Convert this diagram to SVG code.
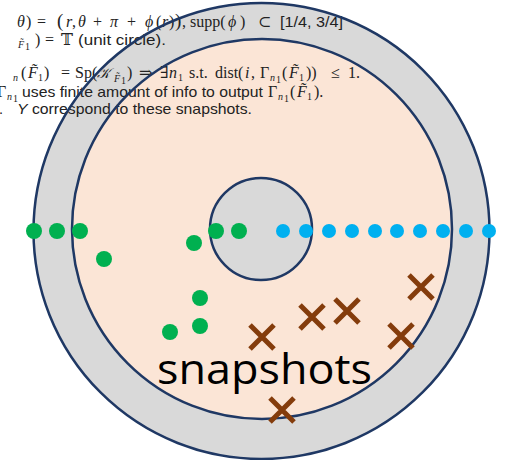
<svg xmlns="http://www.w3.org/2000/svg" width="506" height="460" viewBox="0 0 506 460">
<style>
.ring{stroke:#1F3864;stroke-width:2.5;fill:none}
.m{font-family:"Liberation Serif","DejaVu Serif",serif;font-size:16px;fill:#222}
.i{font-style:italic}
.s{font-family:"Liberation Sans","Open Sans",sans-serif;font-size:14.5px;fill:#222}
.sub{font-size:10px}
.g{fill:#00B050}
.b{fill:#00B0F0}
.x{stroke:#843C0C;stroke-width:5;stroke-linecap:butt;fill:none}
</style>
<defs>
<path id="cross" d="M-12,-12L12,12M12,-12L-12,12"/>
</defs>
<rect width="506" height="460" fill="#ffffff"/>
<g id="fills">
<circle cx="261.5" cy="231" r="228" fill="#D9D9D9"/>
<circle cx="262" cy="229" r="190" fill="#FBE5D6"/>
<circle cx="261" cy="229" r="51" fill="#D9D9D9"/>
</g>
<g id="text">
<text class="m" y="27"><tspan x="17" class="i">θ</tspan><tspan x="26">)</tspan><tspan x="37">=</tspan><tspan x="57" font-size="19">(</tspan><tspan x="66" class="i">r</tspan><tspan x="72">,</tspan><tspan x="78" class="i">θ</tspan><tspan x="93">+</tspan><tspan x="110" class="i">π</tspan><tspan x="127">+</tspan><tspan x="145" class="i">ϕ</tspan><tspan x="156">(</tspan><tspan x="162" class="i">r</tspan><tspan x="169">)</tspan><tspan x="175" font-size="19">)</tspan><tspan x="182">,</tspan><tspan x="190">supp(</tspan><tspan x="228" class="i">ϕ</tspan><tspan x="240">)</tspan><tspan x="258">⊂</tspan></text>
<text class="s" x="280" y="27" textLength="63" lengthAdjust="spacingAndGlyphs">[1/4, 3/4]</text>
<text class="m" y="45"><tspan x="18" y="48" class="sub i">F̃</tspan><tspan x="25" y="50" class="sub">1</tspan><tspan x="35" y="45">)</tspan><tspan x="45">=</tspan><tspan x="61">𝕋</tspan></text>
<text class="s" x="78" y="45" textLength="88" lengthAdjust="spacingAndGlyphs">(unit circle).</text>
<text class="m" y="78"><tspan x="13" y="81" class="i sub" font-size="12">n</tspan><tspan x="21" y="78">(</tspan><tspan x="28" class="i">F̃</tspan><tspan x="38" y="81" class="sub">1</tspan><tspan x="44" y="78">)</tspan><tspan x="61">=</tspan><tspan x="75">Sp(</tspan><tspan x="97" class="i" font-size="14">𝒦</tspan><tspan x="114" y="82" class="sub i">F̃</tspan><tspan x="121" y="84" class="sub">1</tspan><tspan x="127" y="78">)</tspan><tspan x="139">⇒</tspan><tspan x="160">∃</tspan><tspan x="169" class="i">n</tspan><tspan x="178" y="81" class="sub">1</tspan><tspan x="189" y="78">s.t.</tspan><tspan x="215">dist(</tspan><tspan x="245" class="i">i</tspan><tspan x="251">,</tspan><tspan x="260">Γ</tspan><tspan x="270" y="81" class="sub i">n</tspan><tspan x="276" y="83" class="sub" font-size="7">1</tspan><tspan x="282" y="78">(</tspan><tspan x="289" class="i">F̃</tspan><tspan x="299" y="81" class="sub">1</tspan><tspan x="306" y="78">))</tspan><tspan x="331">≤</tspan><tspan x="348">1.</tspan></text>
<text class="m" y="97"><tspan x="-3">Γ</tspan><tspan x="7" y="100" class="sub i">n</tspan><tspan x="13" y="102" class="sub" font-size="7">1</tspan></text>
<text class="s" x="22" y="97" textLength="241" lengthAdjust="spacingAndGlyphs">uses finite amount of info to output</text>
<text class="m" y="97"><tspan x="268">Γ</tspan><tspan x="278" y="100" class="sub i">n</tspan><tspan x="284" y="102" class="sub" font-size="7">1</tspan><tspan x="290" y="97">(</tspan><tspan x="297" class="i">F̃</tspan><tspan x="307" y="100" class="sub">1</tspan><tspan x="314" y="97">).</tspan></text>
<text class="s" x="-1" y="114">.</text>
<text class="s" x="17" y="114" textLength="235" lengthAdjust="spacingAndGlyphs"><tspan font-style="italic">Y</tspan> correspond to these snapshots.</text>
</g>
<g id="outlines">
<circle class="ring" cx="261.5" cy="231" r="228"/>
<circle class="ring" cx="262" cy="229" r="190"/>
<circle class="ring" cx="261" cy="229" r="51"/>
</g>
<g id="green-dots">
<circle class="g" cx="34" cy="231" r="8"/>
<circle class="g" cx="57" cy="231" r="8"/>
<circle class="g" cx="80" cy="231" r="8"/>
<circle class="g" cx="216" cy="231" r="8"/>
<circle class="g" cx="239" cy="231" r="8"/>
<circle class="g" cx="194" cy="243" r="8"/>
<circle class="g" cx="104" cy="259" r="8"/>
<circle class="g" cx="200" cy="298" r="8"/>
<circle class="g" cx="200" cy="326" r="8"/>
<circle class="g" cx="170" cy="332" r="8"/>
</g>
<g id="blue-dots">
<circle class="b" cx="283" cy="231" r="7"/>
<circle class="b" cx="306" cy="231" r="7"/>
<circle class="b" cx="329" cy="231" r="7"/>
<circle class="b" cx="352" cy="231" r="7"/>
<circle class="b" cx="375" cy="231" r="7"/>
<circle class="b" cx="397" cy="231" r="7"/>
<circle class="b" cx="420" cy="231" r="7"/>
<circle class="b" cx="443" cy="231" r="7"/>
<circle class="b" cx="466" cy="231" r="7"/>
<circle class="b" cx="489" cy="231" r="7"/>
</g>
<g id="crosses">
<use href="#cross" class="x" x="421" y="287"/>
<use href="#cross" class="x" x="312" y="317"/>
<use href="#cross" class="x" x="347" y="311"/>
<use href="#cross" class="x" x="262" y="337"/>
<use href="#cross" class="x" x="401" y="336"/>
<use href="#cross" class="x" x="282" y="410"/>
</g>
<g id="label">
<text x="157" y="384" font-family="'Open Sans','Liberation Sans',sans-serif" font-size="42" fill="#000" textLength="215" lengthAdjust="spacingAndGlyphs">snapshots</text>
</g>
</svg>
